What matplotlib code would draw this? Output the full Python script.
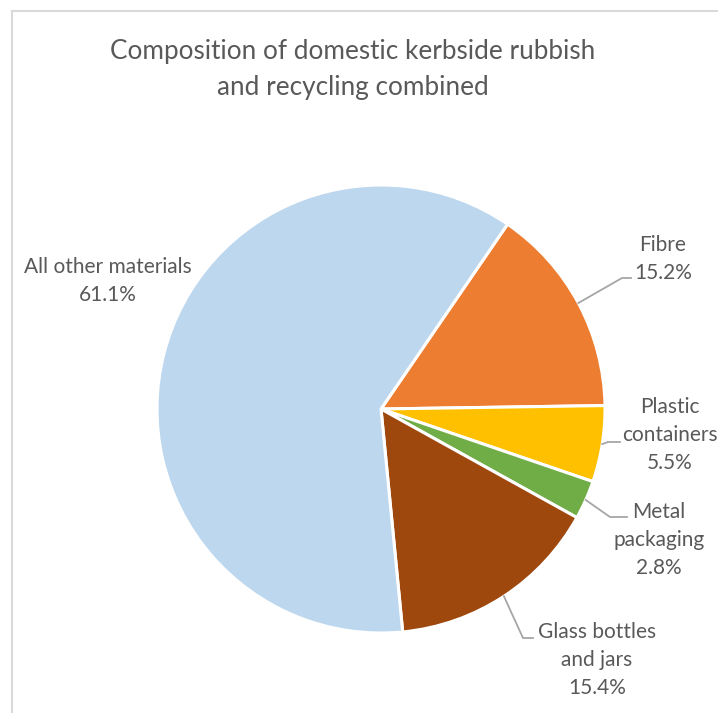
import numpy as np
import matplotlib
matplotlib.use("Agg")
import matplotlib.pyplot as plt

categories = ["Fibre", "Plastic\ncontainers", "Metal\npackaging", "Glass bottles\nand jars", "All other materials"]
values = [15.2, 5.5, 2.8, 15.4, 61.1]
colors = ["#ED7D31", "#FFC000", "#70AD47", "#9E480E", "#BDD7EE"]

W, H = 718, 713
fig = plt.figure(figsize=(W / 100, H / 100), dpi=100)
ax = fig.add_axes([0, 0, 1, 1])

cx, cy, R = 381, H - 409, 224
wedges, _ = ax.pie(values, colors=colors, startangle=55.6, counterclock=False,
                   center=(cx, cy), radius=R, frame=True,
                   wedgeprops=dict(edgecolor="white", linewidth=2.2))
ax.set_xlim(0, W)
ax.set_ylim(0, H)
ax.axis("off")

txt_color = "#595959"
font = "Lato"
fs = 15

# label layout: text center x, center y of first line, elbow point, end point (pixel coords, y from top)
layout = [
    dict(tx=663, ty=245, elbow=(622, 278), end=(631, 278)),
    dict(tx=670, ty=407, elbow=(608, 442), end=(620, 442)),
    dict(tx=659, ty=512, elbow=(610, 517), end=(627, 517)),
    dict(tx=597, ty=632, elbow=(523, 638), end=(533, 638)),
    dict(tx=108, ty=267, elbow=None, end=None),
]
lh = 28
for w, cat, v, lay in zip(wedges, categories, values, layout):
    lines = cat.split("\n") + [f"{v:.1f}%"]
    for i, ln in enumerate(lines):
        ax.text(lay["tx"], H - (lay["ty"] + i * lh), ln, ha="center", va="center",
                fontsize=fs, color=txt_color, family=font)
    if lay["elbow"] is not None:
        mid = np.deg2rad((w.theta1 + w.theta2) / 2)
        sx, sy = cx + R * np.cos(mid), cy + R * np.sin(mid)
        ex, ey = lay["elbow"]
        fx, fy = lay["end"]
        ax.plot([sx, ex, fx], [sy, H - ey, H - fy], color="#A6A6A6", lw=1.3,
                solid_joinstyle="miter")

fig.text(353 / W, 1 - 52 / H, "Composition of domestic kerbside rubbish", ha="center", va="center",
         fontsize=18.8, color=txt_color, family=font)
fig.text(353 / W, 1 - 87 / H, "and recycling combined", ha="center", va="center",
         fontsize=18.8, color=txt_color, family=font)

# chart border (top and left)
ax.plot([11.5, W], [H - 10.5, H - 10.5], color="#D9D9D9", lw=1.5, clip_on=False)
ax.plot([11.5, 11.5], [0, H - 10.5], color="#D9D9D9", lw=1.5, clip_on=False)

fig.savefig("out.png", dpi=100, facecolor="white")
